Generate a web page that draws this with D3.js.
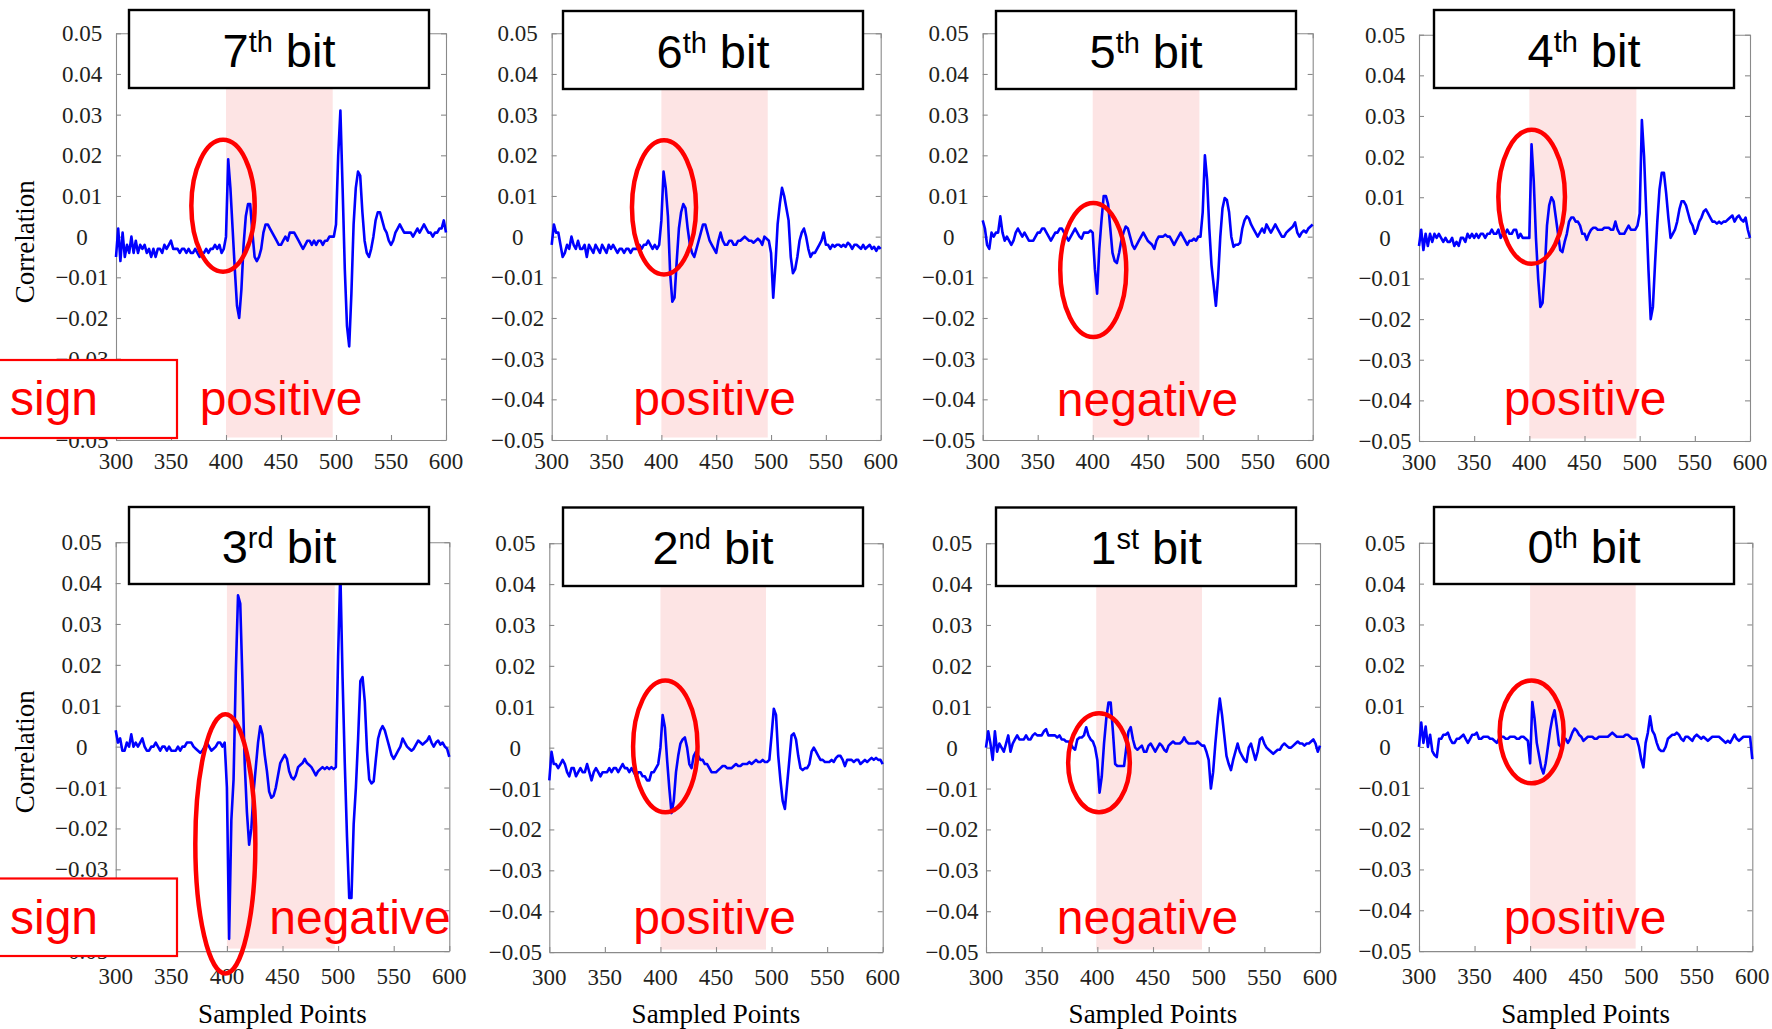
<!DOCTYPE html>
<html><head><meta charset="utf-8">
<script src="https://cdn.jsdelivr.net/npm/d3@7"></script>
<style>body{margin:0;background:#fff}svg{display:block}</style>
</head><body><svg id="c" width="1772" height="1029"></svg>
<script>
// ---------- data ----------
const samples = d3.range(300, 601, 2); // sampled point index (every 2nd sample)
const xTicks = [300, 350, 400, 450, 500, 550, 600];
const yTicks = [0.05, 0.04, 0.03, 0.02, 0.01, 0, -0.01, -0.02, -0.03, -0.04, -0.05];
const yTickLabels = ["0.05","0.04","0.03","0.02","0.01","0","\u22120.01","\u22120.02","\u22120.03","\u22120.04","\u22120.05"];
const titleNum = ["7","6","5","4","3","2","1","0"];
const titleSup = ["th","th","th","th","rd","nd","st","th"];
const signWords = ["positive","positive","negative","positive","negative","positive","negative","positive"];
const shadeFrom = [400, 400, 400, 400, 400, 400, 399, 400];
const shadeTo = [497, 497, 497, 497, 497, 495, 494, 495];
const ellipseCx = [397.3, 402.4, 400.5, 402.1, 398.6, 404.4, 401.5, 401.4];
const ellipseCy = [0.0076, 0.0072, -0.0082, 0.0101, -0.0238, 0.0003, -0.0037, 0.0037];
const ellipseRx = [28.8, 29.2, 30, 30.2, 27, 29, 27.7, 28.8];
const ellipseRy = [0.0162, 0.0165, 0.0165, 0.0165, 0.0317, 0.0161, 0.0121, 0.0126];

const bit7 = [-0.005,0.002,-0.006,0.001,-0.005,-0.002,-0.004,0,-0.004,-0.001,
-0.004,-0.002,-0.003,-0.002,-0.004,-0.003,-0.005,-0.003,-0.005,-0.003,
-0.003,-0.004,-0.002,-0.003,-0.002,-0.001,-0.003,-0.003,-0.003,-0.004,
-0.003,-0.003,-0.004,-0.003,-0.004,-0.004,-0.003,-0.004,-0.005,-0.004,
-0.004,-0.003,-0.004,-0.003,-0.003,-0.002,-0.003,-0.002,-0.004,-0.003,
0,0.019,0.012,0.002,-0.008,-0.017,-0.02,-0.013,-0.002,0.005,
0.008,0.008,0.001,-0.005,-0.006,-0.005,-0.003,0.001,0.003,0.003,
0.002,0.001,0,-0.001,-0.002,-0.002,-0.001,0,-0.001,0.001,
0.001,0.001,0,-0.001,-0.002,-0.003,-0.002,-0.001,-0.001,-0.002,
-0.001,-0.002,-0.001,-0.001,-0.002,-0.001,-0.001,0,0,0,
0.003,0.02,0.031,0.012,-0.008,-0.022,-0.027,-0.014,0.003,0.012,
0.016,0.015,0.006,-0.001,-0.004,-0.005,-0.003,0,0.004,0.006,
0.006,0.004,0.002,0.001,-0.001,-0.002,-0.001,0.001,0.002,0.003,
0.002,0.001,0.001,0.001,0.001,0,0.001,0.002,0.001,0.002,
0.003,0.002,0.001,0.001,0,0.001,0.001,0.002,0.002,0.004,
0.001];
const bit6 = [-0.002,0.003,0.001,0.001,-0.002,-0.005,-0.004,-0.002,-0.003,0,
-0.002,-0.003,-0.001,-0.003,-0.003,-0.002,-0.005,-0.002,-0.003,-0.004,
-0.002,-0.003,-0.004,-0.002,-0.003,-0.004,-0.002,-0.003,-0.002,-0.003,
-0.004,-0.003,-0.003,-0.004,-0.003,-0.003,-0.004,-0.003,-0.003,-0.003,
-0.002,-0.003,-0.002,-0.002,-0.001,-0.002,-0.003,-0.002,-0.003,-0.002,
0.004,0.016,0.012,0.005,-0.009,-0.016,-0.015,-0.006,0.002,0.006,
0.008,0.007,0.002,-0.002,-0.004,-0.005,-0.003,-0.001,0.001,0.003,
0.003,0.001,-0.001,-0.002,-0.003,-0.004,-0.001,0.001,-0.001,-0.002,
-0.002,-0.001,-0.001,-0.002,-0.002,-0.001,-0.001,-0.0005,0,-0.0005,
-0.001,-0.001,-0.0015,-0.001,-0.0005,-0.001,-0.002,0,-0.0005,-0.001,
-0.004,-0.015,-0.007,0.003,0.008,0.012,0.01,0.007,0.004,-0.005,
-0.009,-0.008,-0.005,-0.001,0.001,0.002,0,-0.003,-0.005,-0.004,
-0.004,-0.003,-0.002,-0.001,0.001,-0.002,-0.002,-0.003,-0.002,-0.0025,
-0.002,-0.002,-0.0025,-0.002,-0.0025,-0.0015,-0.002,-0.003,-0.002,-0.002,
-0.0025,-0.003,-0.002,-0.003,-0.0025,-0.002,-0.003,-0.0025,-0.0035,-0.0025,
-0.003];
const bit5 = [0.004,0.002,-0.002,-0.003,0.001,0,0.001,0.001,0.005,0.001,
-0.001,0,-0.001,-0.002,-0.001,0.001,0.002,0.001,0,0.001,
0,-0.001,-0.001,-0.001,0,0.001,0.001,0.002,0.002,0.001,
0,-0.001,0,0.001,0.001,0.002,0.002,0.001,0,-0.001,
0,0.001,0.002,0.001,0,-0.0005,0.001,0.001,0.001,0.0015,
0.001,-0.008,-0.014,-0.003,0.004,0.01,0.01,0.008,0.002,-0.004,
-0.006,-0.0065,-0.004,-0.001,0.001,0.0025,0.002,0,-0.002,-0.003,
-0.002,-0.001,0,0.001,0,-0.001,-0.0015,-0.002,-0.003,-0.001,
0,0,0,0.0005,0,0,-0.001,-0.002,-0.001,0,
0.001,0,-0.001,-0.002,-0.001,-0.001,-0.0005,-0.001,0,0,
0.006,0.02,0.014,0.002,-0.007,-0.012,-0.017,-0.01,0,0.007,
0.0095,0.009,0.006,0,-0.0025,-0.002,-0.002,-0.0015,0.002,0.004,
0.005,0.0045,0.003,0.002,0.001,0,0.001,0.002,0.001,0.003,
0.002,0.001,0.002,0.003,0.002,0.001,0,0,0.001,0.0015,
0.002,0.0025,0.0035,0.001,0,0.001,0.0015,0.001,0.002,0.0025,
0.003];
const bit4 = [-0.002,0.002,-0.003,0.001,-0.002,0.001,-0.001,0.001,0,0.001,
0,-0.001,0,-0.001,-0.001,0,-0.002,-0.001,-0.002,0,
0,-0.001,0.001,0,0.001,0,0.001,0,0.001,0.001,
0,0.001,0.001,0.002,0.001,0.001,0.002,0,0.001,0.001,
0.002,0.001,0.001,0.002,0.002,0,0.001,0,0,0,
0,0.023,0.014,0,-0.01,-0.017,-0.016,-0.008,0.003,0.008,
0.01,0.009,0.005,0.001,-0.003,-0.0035,-0.001,0.001,0.004,0.005,
0.005,0.004,0.004,0.003,0.001,0.001,-0.0005,0.001,0.002,0.0025,
0.0025,0.002,0.002,0.002,0.0025,0.0025,0.0025,0.002,0.002,0.004,
0.002,0.001,0.001,0.001,0.002,0.003,0.002,0.002,0.002,0.003,
0.006,0.029,0.02,0.006,-0.008,-0.02,-0.017,-0.006,0.004,0.012,
0.016,0.016,0.011,0.005,0,0.001,0.002,0.004,0.007,0.009,
0.009,0.008,0.006,0.004,0.003,0.001,0.002,0.004,0.005,0.0065,
0.007,0.006,0.005,0.004,0.004,0.0035,0.004,0.0035,0.004,0.004,
0.0045,0.005,0.0055,0.004,0.005,0.0055,0.0045,0.004,0.005,0.002,
0];
const bit3 = [0.004,0.001,0.002,-0.001,-0.001,0.001,0,0.003,0,0.001,
0,0.001,0.002,0,-0.001,-0.001,0,0,0.001,0,
-0.001,0,0,-0.001,0,-0.001,-0.001,-0.001,0,-0.001,
0,0,0.001,0.001,0.001,0,-0.0005,-0.001,-0.0015,-0.001,
0,0.001,0,-0.001,-0.0005,0,0.001,0.001,0,0.001,
-0.01,-0.047,-0.018,-0.008,0.018,0.037,0.035,0.016,-0.004,-0.016,
-0.024,-0.02,-0.011,-0.005,0.001,0.005,0.003,-0.002,-0.006,-0.011,
-0.0125,-0.012,-0.01,-0.007,-0.004,-0.003,-0.002,-0.003,-0.006,-0.0075,
-0.008,-0.007,-0.005,-0.0045,-0.004,-0.003,-0.004,-0.0045,-0.005,-0.006,
-0.007,-0.006,-0.0055,-0.005,-0.0055,-0.005,-0.0055,-0.005,-0.0055,-0.005,
0.022,0.043,0.017,-0.004,-0.022,-0.037,-0.037,-0.019,-0.01,0.002,
0.016,0.017,0.011,-0.001,-0.008,-0.009,-0.0085,-0.003,0.002,0.004,
0.005,0.004,0.002,0,-0.002,-0.003,-0.002,-0.001,0,0.002,
0.001,0,-0.0005,-0.001,-0.0005,0.0005,0.0015,0.001,0.0005,0.001,
0.0015,0.0025,0.001,0,0.001,0.0015,0.0005,0.001,0,-0.0005,
-0.0025];
const bit2 = [-0.008,-0.001,-0.004,-0.004,-0.005,-0.004,-0.003,-0.004,-0.006,-0.007,
-0.005,-0.005,-0.007,-0.006,-0.005,-0.006,-0.006,-0.004,-0.006,-0.008,
-0.006,-0.005,-0.006,-0.007,-0.006,-0.006,-0.006,-0.005,-0.006,-0.005,
-0.005,-0.006,-0.005,-0.004,-0.005,-0.005,-0.006,-0.005,-0.006,-0.007,
-0.006,-0.006,-0.007,-0.007,-0.008,-0.008,-0.006,-0.006,-0.005,-0.004,
0,0.008,0.005,-0.003,-0.01,-0.016,-0.013,-0.006,-0.002,0.001,
0.002,0.0025,0,-0.004,-0.005,-0.002,-0.001,-0.002,-0.003,-0.003,
-0.004,-0.004,-0.005,-0.006,-0.006,-0.006,-0.0055,-0.005,-0.0045,-0.0045,
-0.005,-0.005,-0.005,-0.0045,-0.004,-0.0045,-0.0045,-0.004,-0.004,-0.004,
-0.0035,-0.004,-0.0035,-0.003,-0.0035,-0.0035,-0.003,-0.0035,-0.0035,-0.003,
0.003,0.0095,0.008,-0.002,-0.008,-0.013,-0.015,-0.009,-0.003,0.003,
0.0035,0.002,-0.002,-0.005,-0.0055,-0.005,-0.005,-0.004,-0.001,0,
-0.001,-0.002,-0.003,-0.003,-0.0035,-0.0035,-0.0035,-0.003,-0.0035,-0.0025,
-0.002,-0.002,-0.003,-0.0045,-0.003,-0.003,-0.003,-0.0035,-0.003,-0.003,
-0.004,-0.0035,-0.003,-0.0035,-0.003,-0.0025,-0.003,-0.0025,-0.003,-0.003,
-0.004];
const bit1 = [0,0.004,0.001,-0.003,0.004,-0.001,0.001,0,-0.001,0.001,
0.003,-0.001,0.001,0.002,0.003,0.002,0.002,0.002,0.003,0.002,
0.002,0.003,0.0035,0.003,0.003,0.003,0.004,0.0045,0.003,0.003,
0.003,0.003,0.0025,0.003,0.002,0.002,0.0015,0.0015,0.001,0,
-0.0005,0.002,0.0025,0.0025,0.003,0.005,0.003,0.002,0.0015,0,
-0.003,-0.011,-0.007,0.001,0.007,0.011,0.011,0.004,-0.004,-0.0045,
-0.0045,-0.0045,-0.0045,0,0.004,0.005,0.002,0,-0.0005,0,
0.0005,-0.001,-0.001,0.0005,0.001,0,-0.001,0,0.001,0.0005,
-0.0005,-0.001,0.0005,0.001,0.0015,0.001,0.001,0.001,0.0015,0.0025,
0.0015,0.001,0.001,0.001,0.001,0.0015,0.001,0.0005,0.0005,-0.001,
-0.003,-0.01,-0.006,0.001,0.007,0.012,0.008,0.003,-0.002,-0.004,
-0.0055,-0.003,-0.001,0.001,-0.001,-0.002,-0.003,-0.0035,0,0.001,
-0.001,-0.003,-0.001,0.002,0.0025,0.001,0,-0.0005,-0.001,-0.0015,
-0.001,-0.0005,-0.0005,0.0005,0.001,0.0005,0,0,0.0005,0.001,
0.0015,0.001,0.001,0.0005,0.001,0.001,0.0015,0.002,0.001,-0.001,
0.0005];
const bit0 = [0,0.006,0.001,0.005,0,0.003,-0.001,-0.002,-0.0025,0.002,
0.002,0.003,0.003,0.0035,0.002,0.001,0.001,0.002,0.002,0.0025,
0.003,0.002,0.001,0.002,0.003,0.003,0.0035,0.002,0.002,0.0025,
0.0025,0.0025,0.002,0.002,0.0015,0.001,0.002,0.0025,0.0025,0.002,
0.002,0.0025,0.0025,0.0025,0.002,0.002,0.0025,0.0025,0.002,0.0015,
-0.004,0.011,0.007,0.001,-0.002,-0.005,-0.0065,-0.004,0,0.004,
0.007,0.009,0.005,0.0005,0,0.002,0.002,0.001,0.002,0.0035,
0.0045,0.004,0.003,0.0025,0.0015,0.002,0.0025,0.0025,0.0025,0.002,
0.002,0.0025,0.0025,0.0025,0.0025,0.0025,0.003,0.0035,0.003,0.0025,
0.0025,0.0025,0.0025,0.003,0.003,0.0025,0.002,0.002,0.002,0,
-0.003,-0.005,0.001,0.0035,0.0075,0.004,0.003,0.001,-0.0005,-0.001,
-0.001,0,0.002,0.0025,0.003,0.003,0.0035,0.003,0.002,0.0015,
0.0025,0.0025,0.002,0.0015,0.0025,0.003,0.0025,0.002,0.0025,0.002,
0.0015,0.002,0.0025,0.0025,0.0025,0.0025,0.002,0.0015,0.001,0.0015,
0.001,0.002,0.003,0.002,0.0015,0.002,0.0025,0.0025,0.0025,0.0025,
-0.003];
const series = [bit7, bit6, bit5, bit4, bit3, bit2, bit1, bit0];

// ---------- layout (pixels) ----------
const frames = [
  {l:116,   r:446,    t:33.3,  b:440,   bx:129,  by:10,  bh:78, lx:281,    ly:415,   row:0},
  {l:551.7, r:880.7,  t:33.3,  b:440,   bx:563,  by:11,  bh:78, lx:714.5,  ly:415,   row:0},
  {l:982.7, r:1312.7, t:33.3,  b:440,   bx:996,  by:11,  bh:78, lx:1147.5, ly:416,   row:0},
  {l:1419,  r:1750,   t:34.7,  b:441,   bx:1434, by:10,  bh:78, lx:1585,   ly:415,   row:0},
  {l:115.7, r:449.3,  t:542.2, b:951.1, bx:129,  by:507, bh:77, lx:360,    ly:933.5, row:1},
  {l:549.3, r:882.7,  t:543.2, b:952.1, bx:563,  by:507.5, bh:78.5, lx:714.5,  ly:933.5, row:1},
  {l:986,   r:1320,   t:543.2, b:952.1, bx:996,  by:507.5, bh:78.5, lx:1147.5, ly:933.5, row:1},
  {l:1419,  r:1752.3, t:542.8, b:951.1, bx:1434, by:507, bh:77, lx:1585,   ly:933.5, row:1}
];
const SERIF = "'Liberation Serif','Times New Roman',serif";
const SANS = "'Liberation Sans',Arial,sans-serif";
const AXIS = "#8a8a8a";
const signBoxes = [{y: 360, h: 78, ty: 415}, {y: 878.5, h: 77.5, ty: 933.5}];

const svg = d3.select("#c");

frames.forEach((f, i) => {
  const x = d3.scaleLinear().domain([300, 600]).range([f.l, f.r]);
  const y = d3.scaleLinear().domain([-0.05, 0.05]).range([f.b, f.t]);
  const g = svg.append("g");

  // shaded window
  g.append("rect")
    .attr("x", x(shadeFrom[i])).attr("width", x(shadeTo[i]) - x(shadeFrom[i]))
    .attr("y", f.t).attr("height", f.b - f.t - 2.5)
    .attr("fill", "#fde4e4");

  // axes (MATLAB style box with inward ticks)
  const tk = 5;
  g.append("g").attr("transform", `translate(0,${f.b})`)
    .call(d3.axisBottom(x).tickValues(xTicks).tickSizeInner(-tk).tickSizeOuter(0).tickFormat(""));
  g.append("g").attr("transform", `translate(0,${f.t})`)
    .call(d3.axisTop(x).tickValues(xTicks).tickSizeInner(-tk).tickSizeOuter(0).tickFormat(""));
  g.append("g").attr("transform", `translate(${f.l},0)`)
    .call(d3.axisLeft(y).tickValues(yTicks).tickSizeInner(-tk).tickSizeOuter(0).tickFormat(""));
  g.append("g").attr("transform", `translate(${f.r},0)`)
    .call(d3.axisRight(y).tickValues(yTicks).tickSizeInner(-tk).tickSizeOuter(0).tickFormat(""));
  g.selectAll(".domain, .tick line").attr("stroke", AXIS).attr("stroke-width", 1.1);

  // tick labels (the one fully hidden behind the "sign" box is not drawn)
  const hasSign = (i === 0 || i === 4);
  const yShown = yTicks.map((d, k) => ({d, k})).filter(o => !(hasSign && o.d === -0.04));
  g.selectAll(".ylab").data(yShown).join("text")
    .attr("x", f.l - 34).attr("y", o => y(o.d) + 8)
    .attr("text-anchor", "middle")
    .style("font-family", SERIF).style("font-size", "23px").attr("fill", "#231f20")
    .text(o => yTickLabels[o.k]);
  g.selectAll(".xlab").data(xTicks).join("text")
    .attr("x", d => x(d)).attr("y", f.b + (f.row === 0 ? 29 : 33))
    .attr("text-anchor", "middle")
    .style("font-family", SERIF).style("font-size", "23px").attr("fill", "#231f20")
    .text(d => d);

  // waveform
  const line = d3.line().x((d, k) => x(samples[k])).y(d => y(d));
  g.append("path").datum(series[i])
    .attr("d", line).attr("fill", "none")
    .attr("stroke", "#0000ff").attr("stroke-width", 2.6)
    .attr("stroke-linejoin", "round");

  // title box
  g.append("rect").attr("x", f.bx).attr("y", f.by).attr("width", 300).attr("height", f.bh)
    .attr("fill", "#fff").attr("stroke", "#000").attr("stroke-width", 2.4);
  const tt = g.append("text").attr("x", f.bx + 150).attr("y", f.by + (f.row === 0 ? 57 : 56))
    .attr("text-anchor", "middle").style("font-family", SANS).style("font-size", "47px").attr("fill", "#000");
  tt.append("tspan").text(titleNum[i]);
  tt.append("tspan").attr("dy", -15).style("font-size", "29px").text(titleSup[i]);
  tt.append("tspan").attr("dy", 15).text("\u00a0bit");

  // red ellipse
  g.append("ellipse")
    .attr("cx", x(ellipseCx[i])).attr("cy", y(ellipseCy[i]))
    .attr("rx", x(300 + ellipseRx[i]) - x(300)).attr("ry", y(0) - y(ellipseRy[i]))
    .attr("fill", "none").attr("stroke", "#ff0000").attr("stroke-width", 4.5);

  // sign word
  g.append("text").attr("x", f.lx).attr("y", f.ly).attr("text-anchor", "middle")
    .style("font-family", SANS).style("font-size", "48px").attr("fill", "#ff0000")
    .text(signWords[i]);

  if (hasSign) {
    svg.append("text")
      .attr("transform", `translate(34,${(f.t + f.b) / 2 + 5}) rotate(-90)`)
      .attr("text-anchor", "middle")
      .style("font-family", SERIF).style("font-size", "27px").attr("fill", "#000")
      .text("Correlation");
  }
  if (f.row === 1) {
    svg.append("text").attr("x", (f.l + f.r) / 2).attr("y", 1023).attr("text-anchor", "middle")
      .style("font-family", SERIF).style("font-size", "27px").attr("fill", "#000")
      .text("Sampled Points");
  }
});

// "sign" boxes (drawn on top, covering part of the y tick labels)
signBoxes.forEach(s => {
  svg.append("rect").attr("x", -3).attr("y", s.y).attr("width", 180).attr("height", s.h)
    .attr("fill", "#fff").attr("stroke", "#ff0000").attr("stroke-width", 2.2);
  svg.append("text").attr("x", 10).attr("y", s.ty)
    .style("font-family", SANS).style("font-size", "48px").attr("fill", "#ff0000")
    .text("sign");
});
</script>
</body></html>
